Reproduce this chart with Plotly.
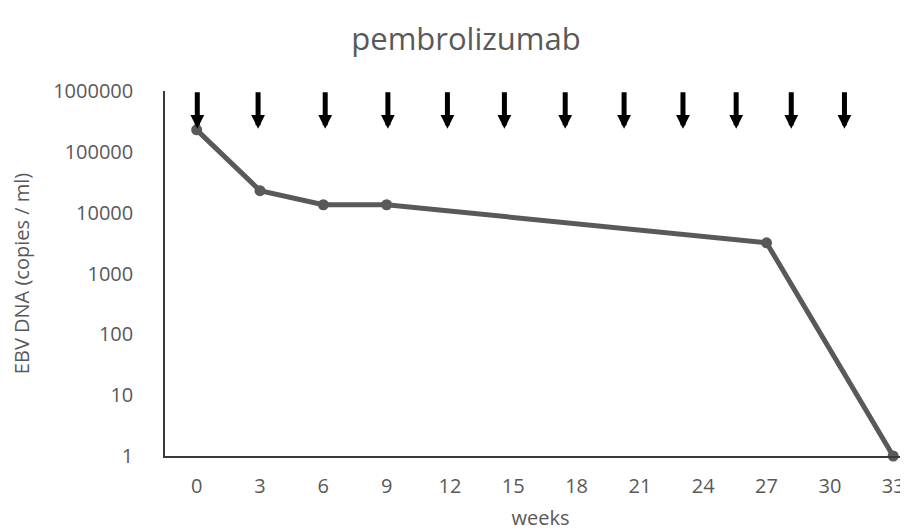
import math
import plotly.graph_objects as go

# categories on the x axis (weeks)
week_labels = ["0", "3", "6", "9", "12", "15", "18", "21", "24", "27", "30", "33"]
# measured EBV DNA values
sample_weeks = ["0", "3", "6", "9", "27", "33"]
ebv_values = [230000, 23000, 13500, 13500, 3200, 1]
# dose arrows (hand-placed in the original, positions in category units)
dose_arrow_pos = [0.01, 0.97, 2.03, 3.02, 3.96, 4.86, 5.82, 6.75, 7.68, 8.52, 9.39, 10.23]
dose_arrow_tip = 240000
y_tick_vals = [1, 10, 100, 1000, 10000, 100000, 1000000]
y_tick_text = ["1", "10", "100", "1000", "10000", "100000", "1000000"]

FONT = "Open Sans"
GREY = "#595959"

x_idx = [week_labels.index(w) for w in sample_weeks]

fig = go.Figure()
fig.add_trace(go.Scatter(
    x=x_idx, y=ebv_values, mode="lines+markers",
    line=dict(color=GREY, width=5),
    marker=dict(color=GREY, size=11),
    cliponaxis=False, showlegend=False,
))

for p in dose_arrow_pos:
    fig.add_annotation(
        x=p, y=math.log10(dose_arrow_tip), xref="x", yref="y",
        text="", showarrow=True, ax=0, ay=-38,
        arrowhead=2, arrowwidth=5, arrowsize=0.55, arrowcolor="black",
        standoff=0,
    )

fig.update_layout(
    width=908, height=531,
    margin=dict(l=157, r=0, t=83, b=83),
    paper_bgcolor="white", plot_bgcolor="white",
    font=dict(family=FONT, color=GREY, size=20),
    title=dict(text="pembrolizumab", x=458 / 908, xref="container", xanchor="center",
               y=1 - 31 / 531, yref="container", yanchor="middle",
               font=dict(family=FONT, size=31, color=GREY)),
)
fig.update_xaxes(
    range=[-0.5, 11.36], tickvals=list(range(len(week_labels))), ticktext=week_labels,
    showgrid=False, zeroline=False, showline=True, linecolor="#3a3a3a", linewidth=2,
    ticks="", ticklabelstandoff=11, tickfont=dict(size=20, color=GREY),
    title=dict(text="weeks", standoff=13, font=dict(size=20, color=GREY)),
)
fig.update_yaxes(
    type="log", range=[0, 6], tickvals=y_tick_vals, ticktext=y_tick_text,
    showgrid=False, zeroline=False, showline=True, linecolor="#3a3a3a", linewidth=1.5,
    ticks="", ticklabelstandoff=26, tickfont=dict(size=20, color=GREY),
    title=dict(text="EBV DNA (copies / ml)", standoff=19, font=dict(size=20, color=GREY)),
)

fig.write_html("out.html")
